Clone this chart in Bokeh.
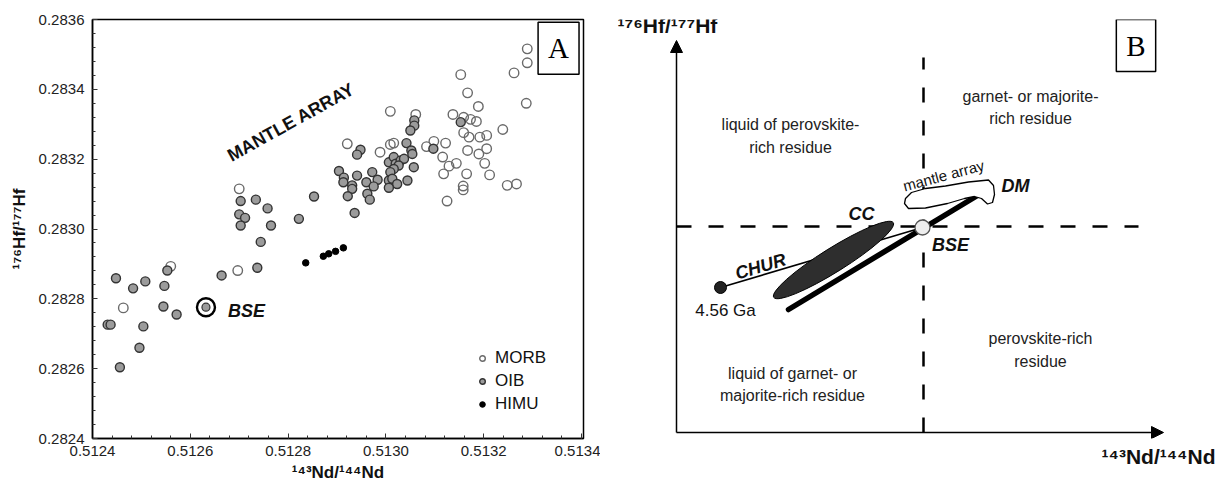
import math
from bokeh.plotting import figure
from bokeh.layouts import row
from bokeh.models import (Range1d, FixedTicker, NumeralTickFormatter, Legend, LegendItem,
                          Label, Arrow, NormalHead, Title)
from bokeh.core.properties import value
from bokeh.embed import file_html
from bokeh.resources import INLINE

# ---------------- Panel A data ----------------
morb_x = [0.512700, 0.512697, 0.512560, 0.512463,
          0.513009, 0.513061, 0.512921, 0.512988, 0.513009, 0.513016, 0.513083,
          0.513289, 0.513289, 0.513262, 0.513153, 0.513167, 0.513189, 0.513287, 0.513137,
          0.513159, 0.513173, 0.513185, 0.513159, 0.513170, 0.513192, 0.513206, 0.513239,
          0.513098, 0.513122, 0.513167, 0.513190, 0.513206, 0.513116, 0.513129, 0.513144,
          0.513118, 0.513202, 0.513212, 0.513165, 0.513158, 0.513158, 0.513125, 0.513248,
          0.513267]
morb_y = [0.283115, 0.282881, 0.282893, 0.282774,
          0.283337, 0.283328, 0.283244, 0.283220, 0.283242, 0.283246, 0.283236,
          0.283516, 0.283476, 0.283447, 0.283442, 0.283390, 0.283351, 0.283360, 0.283328,
          0.283320, 0.283314, 0.283308, 0.283276, 0.283263, 0.283263, 0.283268, 0.283285,
          0.283251, 0.283246, 0.283225, 0.283215, 0.283230, 0.283206, 0.283180, 0.283188,
          0.283158, 0.283188, 0.283155, 0.283158, 0.283123, 0.283112, 0.283080, 0.283125,
          0.283129]

oib_x = [0.512703, 0.512734, 0.512758, 0.512700, 0.512712, 0.512703, 0.512765, 0.512744,
         0.512737, 0.512664, 0.512553, 0.512547, 0.512448, 0.512483, 0.512508, 0.512545,
         0.512572, 0.512431, 0.512437, 0.512504, 0.512496, 0.512456,
         0.513058, 0.513058, 0.513050, 0.512948, 0.512941, 0.513042, 0.513052, 0.513054,
         0.513006, 0.513016, 0.513020, 0.513030, 0.513037, 0.513026, 0.513016, 0.513009,
         0.513057, 0.512904, 0.512914, 0.512913, 0.512931, 0.512931, 0.512941, 0.512960,
         0.512972, 0.512983, 0.512975, 0.513006, 0.513013, 0.513023, 0.513006, 0.513044,
         0.512922, 0.512962, 0.512967, 0.512936, 0.512853, 0.512822,
         0.513153, 0.513097]
oib_y = [0.283080, 0.283084, 0.283059, 0.283042, 0.283032, 0.283010, 0.283010, 0.282963,
         0.282889, 0.282867, 0.282881, 0.282837, 0.282859, 0.282830, 0.282850, 0.282778,
         0.282755, 0.282726, 0.282726, 0.282721, 0.282660, 0.282604,
         0.283311, 0.283296, 0.283282, 0.283227, 0.283213, 0.283246, 0.283225, 0.283215,
         0.283191, 0.283206, 0.283187, 0.283196, 0.283201, 0.283182, 0.283172, 0.283163,
         0.283177, 0.283166, 0.283147, 0.283134, 0.283125, 0.283115, 0.283153, 0.283134,
         0.283163, 0.283141, 0.283122, 0.283139, 0.283144, 0.283129, 0.283118, 0.283139,
         0.283094, 0.283101, 0.283084, 0.283046, 0.283093, 0.283029,
         0.283306, 0.283230]

himu_x = [0.512836, 0.512872, 0.512883, 0.512897, 0.512913]
himu_y = [0.282903, 0.282922, 0.282929, 0.282936, 0.282946]

bse_x = [0.512632]
bse_y = [0.282776]

x_major = [0.5124, 0.5126, 0.5128, 0.5130, 0.5132, 0.5134]
y_major = [0.2824, 0.2826, 0.2828, 0.2830, 0.2832, 0.2834, 0.2836]
x_minor = [round(0.5124 + i * 0.00004, 6) for i in range(26)]
y_minor = [round(0.2824 + i * 0.00004, 6) for i in range(31)]

series_labels = ["MORB", "OIB", "HIMU"]
x_label = "¹⁴³Nd/¹⁴⁴Nd"
y_label = "¹⁷⁶Hf/¹⁷⁷Hf"

SANS = "Liberation Sans"
SERIF = "Liberation Serif"

pa = figure(width=600, height=491,
            x_range=Range1d(0.5124, 0.513404), y_range=Range1d(0.2824, 0.2836),
            output_backend="svg", toolbar_location=None,
            min_border_left=92, min_border_right=17, min_border_top=19, min_border_bottom=53)
pa.grid.visible = False
pa.background_fill_color = "white"
pa.border_fill_color = "white"
pa.outline_line_color = "black"
pa.outline_line_width = 1.5

pa.xaxis.ticker = FixedTicker(ticks=x_major, minor_ticks=x_minor)
pa.yaxis.ticker = FixedTicker(ticks=y_major, minor_ticks=y_minor)
pa.xaxis.formatter = NumeralTickFormatter(format="0.0000")
pa.yaxis.formatter = NumeralTickFormatter(format="0.0000")
for ax in (pa.xaxis, pa.yaxis):
    ax.axis_line_color = "black"
    ax.axis_line_width = 1.5
    ax.major_tick_in = 5
    ax.major_tick_out = 0
    ax.minor_tick_in = 3
    ax.minor_tick_out = 0
    ax.major_tick_line_color = "#333333"
    ax.minor_tick_line_color = "#333333"
    ax.major_label_text_font = SANS
    ax.major_label_text_font_size = "15px"
    ax.major_label_text_color = "#222222"
    ax.axis_label_text_font = SANS
    ax.axis_label_text_font_style = "bold"
    ax.axis_label_text_font_size = "17px"
    ax.axis_label_text_color = "#111111"
pa.xaxis.axis_label = x_label
pa.yaxis.axis_label = y_label
pa.xaxis.major_label_standoff = 7
pa.xaxis.axis_label_standoff = 4
pa.yaxis.major_label_standoff = 8
pa.yaxis.axis_label_standoff = 7

r_morb = pa.scatter(morb_x, morb_y, marker="circle", size=9.5,
                    fill_color="white", fill_alpha=0.0, line_color="#6a6a6a", line_width=1.4)
r_oib = pa.scatter(oib_x, oib_y, marker="circle", size=9,
                   fill_color="#9b9b9b", line_color="#333333", line_width=1.4)
r_himu = pa.scatter(himu_x, himu_y, marker="circle", size=6.5,
                    fill_color="black", line_color="black")

# BSE symbol
pa.scatter(bse_x, bse_y, marker="circle", size=8, fill_color="#9b9b9b", line_color="#333333", line_width=1.2)
pa.scatter(bse_x, bse_y, marker="circle", size=18, fill_alpha=0, line_color="black", line_width=2.4)
pa.text(x=[bse_x[0] + 0.0000452], y=[bse_y[0] - 0.0000095], text=["BSE"],
        text_font=value(SANS), text_font_style="bold italic", text_font_size="18px",
        text_align="left", text_baseline="middle", text_color="#111111")

# mantle array label
pa.text(x=[0.512806], y=[0.283306], text=["MANTLE ARRAY"], angle=29, angle_units="deg",
        text_font=value(SANS), text_font_style="bold", text_font_size="18px",
        text_align="center", text_baseline="middle", text_color="#111111")

legend = Legend(items=[LegendItem(label=series_labels[0], renderers=[r_morb]),
                       LegendItem(label=series_labels[1], renderers=[r_oib]),
                       LegendItem(label=series_labels[2], renderers=[r_himu])],
                location=(383, 24))
legend.border_line_color = None
legend.background_fill_alpha = 0
legend.padding = 2
legend.spacing = 3
legend.glyph_width = 14
legend.glyph_height = 14
legend.label_height = 20
legend.label_standoff = 6
legend.label_text_font = SANS
legend.label_text_font_size = "17px"
legend.label_text_color = "#111111"
pa.add_layout(legend)

pa.add_layout(Label(x=0.513353, y=0.283518, text="A", text_font=SERIF, text_font_size="29px",
                    text_align="center", text_baseline="middle", text_color="black",
                    border_line_color="black", border_line_width=1.5,
                    background_fill_color="white", padding=10))

# ---------------- Panel B (schematic, units = px from axis origin) ----------------
b_axis_x_end = 487
b_axis_y_end = 392
b_dash_v_x = [247, 247]
b_dash_v_y = [0, 375]
b_dash_h_x = [0, 462]
b_dash_h_y = [206, 206]
chur_x = [44, 246]
chur_y = [145, 205]
cc_center = (157, 172.5)
cc_size = (141, 24)
cc_angle = 32
trend_x = [112, 301]
trend_y = [123, 237]
bse_b = (246, 205)
mantle_px = [228, 232, 249, 271, 288, 298, 305, 311, 316, 318, 317, 312, 292, 269, 249, 235, 229]
mantle_py = [229, 224, 224.5, 229, 234, 236, 234, 228.5, 230, 238, 247, 252.5, 250.5, 246.5, 244, 240, 234]

region_text = ["liquid of perovskite-\nrich residue", "garnet- or majorite-\nrich residue",
               "perovskite-rich\nresidue", "liquid of garnet- or\nmajorite-rich residue"]
region_x = [114, 354, 364, 116]
region_y = [296.5, 325, 82.5, 48]

tag_text = ["CC", "BSE", "DM"]
tag_x = [185, 274, 339]
tag_y = [219, 188, 247]

# frame of panel B is aligned with panel A's frame (page y 19..438)
pb = figure(width=626, height=491, x_range=Range1d(-76, 550), y_range=Range1d(-6, 413),
            output_backend="svg", toolbar_location=None,
            x_axis_location=None, y_axis_location=None,
            min_border_left=0, min_border_right=0, min_border_top=19, min_border_bottom=53)
pb.grid.visible = False
pb.outline_line_color = None
pb.background_fill_color = "white"
pb.border_fill_color = "white"

pb.add_layout(Arrow(end=NormalHead(size=12, fill_color="black", line_color="black", line_width=1),
                    x_start=0, y_start=0, x_end=0, y_end=b_axis_y_end,
                    line_color="black", line_width=1.5))
pb.add_layout(Arrow(end=NormalHead(size=12, fill_color="black", line_color="black", line_width=1),
                    x_start=0, y_start=0, x_end=b_axis_x_end, y_end=0,
                    line_color="black", line_width=1.5))

pb.line(b_dash_v_x, b_dash_v_y, line_color="black", line_width=2.5, line_dash="15 18")
pb.line(b_dash_h_x, b_dash_h_y, line_color="black", line_width=2.5, line_dash="15 17")

pb.line(chur_x, chur_y, line_color="black", line_width=1.6)
pb.scatter([chur_x[0]], [chur_y[0]], marker="circle", size=12, fill_color="#222222", line_color="black")

pb.ellipse(x=[cc_center[0]], y=[cc_center[1]], width=[cc_size[0]], height=[cc_size[1]],
           angle=[cc_angle], angle_units="deg", fill_color="#2e2e2e", line_color="black", line_width=1)

pb.line(trend_x, trend_y, line_color="black", line_width=5.5, line_cap="round")

pb.patch(mantle_px, mantle_py, fill_color="white", line_color="black", line_width=1.3)

pb.scatter([bse_b[0]], [bse_b[1]], marker="circle", size=15, fill_color="#eeeeee",
           line_color="#555555", line_width=1.3)

pb.text(x=region_x, y=region_y, text=region_text, text_font=value(SANS), text_font_size="16px",
        text_align="center", text_baseline="middle", text_line_height=1.3, text_color="#222222")
pb.text(x=tag_x, y=tag_y, text=tag_text, text_font=value(SANS), text_font_style="bold italic",
        text_font_size="18px", text_align="center", text_baseline="middle", text_color="#111111")
pb.text(x=[84], y=[166], text=["CHUR"], angle=17, angle_units="deg", text_font=value(SANS),
        text_font_style="bold italic", text_font_size="18px", text_align="center",
        text_baseline="middle", text_color="#111111")
pb.text(x=[49], y=[122], text=["4.56 Ga"], text_font=value(SANS), text_font_size="17px",
        text_align="center", text_baseline="middle", text_color="#111111")
pb.text(x=[267], y=[257], text=["mantle array"], angle=15, angle_units="deg", text_font=value(SANS),
        text_font_size="15px", text_align="center", text_baseline="middle", text_color="#111111")

# axis titles
pb.add_layout(Label(x=-59, y=407, text=y_label, text_font=SANS, text_font_style="bold",
                    text_font_size="21px", text_align="left", text_baseline="middle",
                    text_color="#111111"))
pb.add_layout(Title(text=x_label, align="right", offset=11, standoff=8,
                    text_font=SANS, text_font_style="bold", text_font_size="21px",
                    text_color="#111111"), "below")

pb.add_layout(Label(x=459.5, y=387, text="B", text_font=SERIF, text_font_size="29px",
                    text_align="center", text_baseline="middle", text_color="black",
                    border_line_color="black", border_line_width=1.5,
                    background_fill_color="white", padding=10))

layout = row(pa, pb)
open("out.html", "w").write(file_html(layout, INLINE))
